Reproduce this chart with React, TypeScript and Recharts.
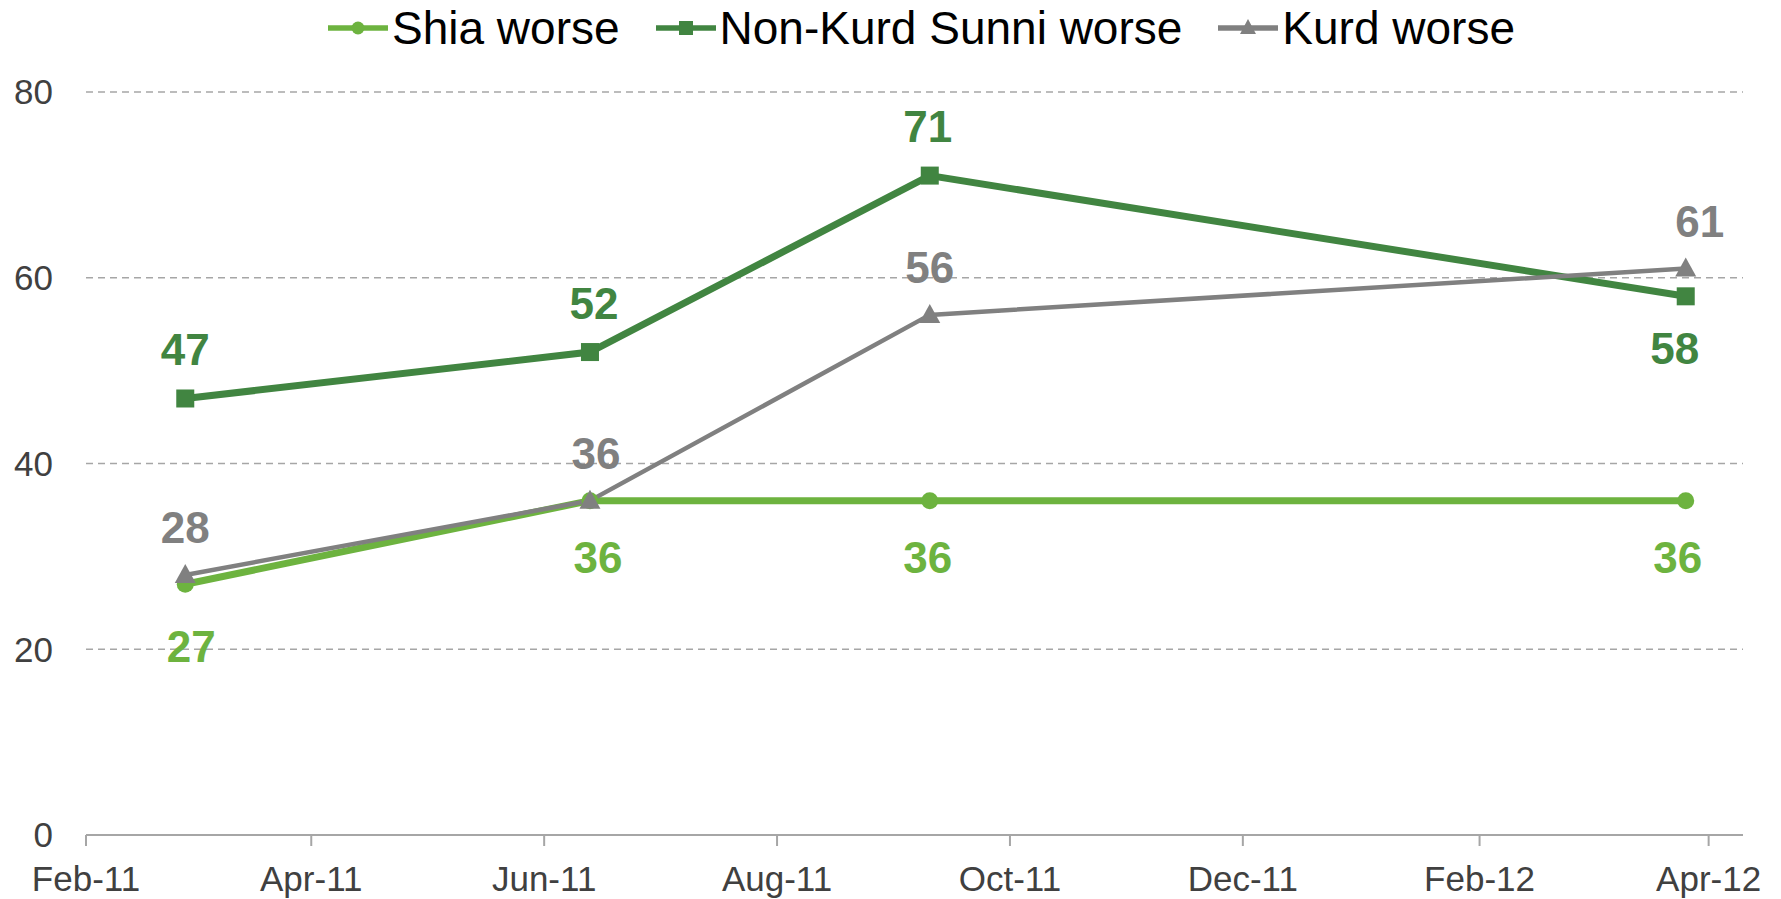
import { LineChart, Line, XAxis, YAxis, CartesianGrid, Legend, LabelList } from 'recharts'

// survey dates (x) and % saying things got worse, by group
const surveyDates = ['2011-02-27', '2011-06-13', '2011-09-10', '2012-03-26']
const shiaWorse = [27, 36, 36, 36]
const sunniWorse = [47, 52, 71, 58]
const kurdWorse = [28, 36, 56, 61]

const tickDates = ['2011-02-01', '2011-04-01', '2011-06-01', '2011-08-01', '2011-10-01', '2011-12-01', '2012-02-01', '2012-04-01']
const tickLabels = ['Feb-11', 'Apr-11', 'Jun-11', 'Aug-11', 'Oct-11', 'Dec-11', 'Feb-12', 'Apr-12']
const yTicks = [0, 20, 40, 60, 80]
const axisStart = '2011-02-01'
const axisEnd = '2012-04-10'
const seriesOrder = ['shia', 'sunni', 'kurd']

const toTime = (s: string) => Date.parse(s + 'T00:00:00Z')
const tickTimes = tickDates.map(toTime)

const data = surveyDates.map((d, i) => ({
  t: toTime(d),
  shia: shiaWorse[i],
  sunni: sunniWorse[i],
  kurd: kurdWorse[i],
}))

const SHIA = '#6DB33F'
const SUNNI = '#418541'
const KURD = '#808080'
const FONT = '"Liberation Sans", Arial, Helvetica, sans-serif'

const makeLabel = (color: string, dx: number[], dy: number[]) => (props: any) => {
  const i = props.index ?? 0
  const vb = props.viewBox
  const x = vb && vb.x != null ? vb.x + (vb.width || 0) / 2 : props.x
  const y = vb && vb.y != null ? vb.y + (vb.height || 0) / 2 : props.y
  return (
    <text
      key={`lbl-${color}-${i}`}
      x={x + (dx[i] ?? 0)}
      y={y + (dy[i] ?? 0)}
      fill={color}
      fontSize={44}
      fontWeight="bold"
      fontFamily={FONT}
      textAnchor="middle"
      dominantBaseline="central"
    >
      {props.value}
    </text>
  )
}

const circleDot = (props: any) => (
  <circle key={`c-${props.index}`} cx={props.cx} cy={props.cy} r={8.5} fill={SHIA} />
)
const squareDot = (props: any) => (
  <rect key={`s-${props.index}`} x={props.cx - 9} y={props.cy - 9} width={18} height={18} fill={SUNNI} />
)
const triangleDot = (props: any) => (
  <polygon
    key={`t-${props.index}`}
    points={`${props.cx},${props.cy - 11} ${props.cx - 10.5},${props.cy + 8} ${props.cx + 10.5},${props.cy + 8}`}
    fill={KURD}
  />
)

function legendMarker(key: string, color: string) {
  if (key === 'shia') return <circle cx={30} cy={10} r={6.5} fill={color} />
  if (key === 'sunni') return <rect x={23} y={3} width={14} height={14} fill={color} />
  return <polygon points="30,1 22,16 38,16" fill={color} />
}

function LegendContent({ payload }: any) {
  const items = [...(payload || [])].sort(
    (a: any, b: any) => seriesOrder.indexOf(a.dataKey) - seriesOrder.indexOf(b.dataKey)
  )
  return (
    <div style={{ display: 'flex', justifyContent: 'center', alignItems: 'center', paddingLeft: 62, fontFamily: FONT }}>
      {items.map((item: any, i: number) => (
        <div key={item.value} style={{ display: 'flex', alignItems: 'center', marginLeft: i === 0 ? 0 : 36 }}>
          <svg width={60} height={20}>
            <line x1={0} y1={10} x2={60} y2={10} stroke={item.color} strokeWidth={5.5} strokeLinecap="round" />
            {legendMarker(item.dataKey, item.color)}
          </svg>
          <span style={{ fontSize: 46, lineHeight: '56px', color: '#000', marginLeft: 4 }}>{item.value}</span>
        </div>
      ))}
    </div>
  )
}

export default function App() {
  return (
    <div style={{ position: 'absolute', left: 0, top: 0, width: 1781, height: 899, background: '#fff', fontFamily: FONT }}>
      <LineChart width={1781} height={899} data={data} margin={{ top: 92, right: 38, bottom: 0, left: 0 }}>
        <CartesianGrid horizontal vertical={false} stroke="#a6a6a6" strokeWidth={1.5} strokeDasharray="7 5" />
        <XAxis
          dataKey="t"
          type="number"
          domain={[toTime(axisStart), toTime(axisEnd)]}
          ticks={tickTimes}
          interval={0}
          tickFormatter={(v: number) => tickLabels[tickTimes.indexOf(v)] ?? ''}
          axisLine={{ stroke: '#a6a6a6', strokeWidth: 2 }}
          tickLine={{ stroke: '#a6a6a6', strokeWidth: 2 }}
          tickSize={11}
          tickMargin={20}
          height={64}
          tick={{ fontSize: 35, fill: '#404040' }}
        />
        <YAxis
          domain={[0, 80]}
          ticks={yTicks}
          axisLine={false}
          tickLine={false}
          tickSize={0}
          tickMargin={33}
          width={86}
          tick={{ fontSize: 35, fill: '#404040' }}
        />
        <Legend
          verticalAlign="middle"
          align="center"
          layout="horizontal"
          content={<LegendContent />}
          wrapperStyle={{ top: 0, left: 0, width: 1781, height: 56 }}
        />
        <Line
          type="linear"
          dataKey="shia"
          name="Shia worse"
          stroke={SHIA}
          strokeWidth={7}
          dot={circleDot}
          activeDot={false}
          isAnimationActive={false}
        >
          <LabelList dataKey="shia" content={makeLabel(SHIA, [6, 8, -2, -8], [62, 57, 57, 57])} />
        </Line>
        <Line
          type="linear"
          dataKey="sunni"
          name="Non-Kurd Sunni worse"
          stroke={SUNNI}
          strokeWidth={7}
          dot={squareDot}
          activeDot={false}
          isAnimationActive={false}
        >
          <LabelList dataKey="sunni" content={makeLabel(SUNNI, [0, 4, -2, -11], [-49, -49, -49, 52])} />
        </Line>
        <Line
          type="linear"
          dataKey="kurd"
          name="Kurd worse"
          stroke={KURD}
          strokeWidth={4.5}
          dot={triangleDot}
          activeDot={false}
          isAnimationActive={false}
        >
          <LabelList dataKey="kurd" content={makeLabel(KURD, [0, 6, 0, 14], [-47, -47, -47, -47])} />
        </Line>
      </LineChart>
    </div>
  )
}
